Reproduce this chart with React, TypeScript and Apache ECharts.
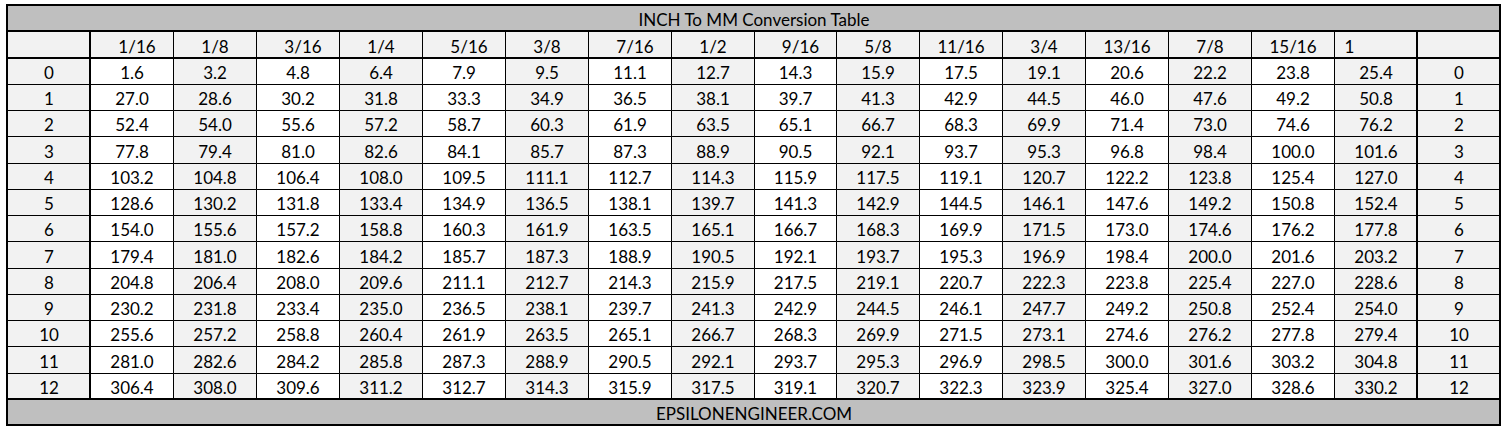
import React, { useEffect, useRef } from 'react';
import * as echarts from 'echarts';

const TITLE = 'INCH To MM Conversion Table';
const FOOTER = 'EPSILONENGINEER.COM';
const fractionLabels = ['1/16', '1/8', '3/16', '1/4', '5/16', '3/8', '7/16', '1/2', '9/16', '5/8', '11/16', '3/4', '13/16', '7/8', '15/16', '1'];
const inchRows = ['0', '1', '2', '3', '4', '5', '6', '7', '8', '9', '10', '11', '12'];
const mmValues: number[][] = [
  [1.6, 3.2, 4.8, 6.4, 7.9, 9.5, 11.1, 12.7, 14.3, 15.9, 17.5, 19.1, 20.6, 22.2, 23.8, 25.4],
  [27.0, 28.6, 30.2, 31.8, 33.3, 34.9, 36.5, 38.1, 39.7, 41.3, 42.9, 44.5, 46.0, 47.6, 49.2, 50.8],
  [52.4, 54.0, 55.6, 57.2, 58.7, 60.3, 61.9, 63.5, 65.1, 66.7, 68.3, 69.9, 71.4, 73.0, 74.6, 76.2],
  [77.8, 79.4, 81.0, 82.6, 84.1, 85.7, 87.3, 88.9, 90.5, 92.1, 93.7, 95.3, 96.8, 98.4, 100.0, 101.6],
  [103.2, 104.8, 106.4, 108.0, 109.5, 111.1, 112.7, 114.3, 115.9, 117.5, 119.1, 120.7, 122.2, 123.8, 125.4, 127.0],
  [128.6, 130.2, 131.8, 133.4, 134.9, 136.5, 138.1, 139.7, 141.3, 142.9, 144.5, 146.1, 147.6, 149.2, 150.8, 152.4],
  [154.0, 155.6, 157.2, 158.8, 160.3, 161.9, 163.5, 165.1, 166.7, 168.3, 169.9, 171.5, 173.0, 174.6, 176.2, 177.8],
  [179.4, 181.0, 182.6, 184.2, 185.7, 187.3, 188.9, 190.5, 192.1, 193.7, 195.3, 196.9, 198.4, 200.0, 201.6, 203.2],
  [204.8, 206.4, 208.0, 209.6, 211.1, 212.7, 214.3, 215.9, 217.5, 219.1, 220.7, 222.3, 223.8, 225.4, 227.0, 228.6],
  [230.2, 231.8, 233.4, 235.0, 236.5, 238.1, 239.7, 241.3, 242.9, 244.5, 246.1, 247.7, 249.2, 250.8, 252.4, 254.0],
  [255.6, 257.2, 258.8, 260.4, 261.9, 263.5, 265.1, 266.7, 268.3, 269.9, 271.5, 273.1, 274.6, 276.2, 277.8, 279.4],
  [281.0, 282.6, 284.2, 285.8, 287.3, 288.9, 290.5, 292.1, 293.7, 295.3, 296.9, 298.5, 300.0, 301.6, 303.2, 304.8],
  [306.4, 308.0, 309.6, 311.2, 312.7, 314.3, 315.9, 317.5, 319.1, 320.7, 322.3, 323.9, 325.4, 327.0, 328.6, 330.2],
];

const NCOLS = fractionLabels.length + 2;
const NROWS = inchRows.length + 3;

const BAND = '#BFBFBF';
const LIGHT = '#F2F2F2';
const WHITE = '#FFFFFF';
const FONT = '17px Lato, "Open Sans", sans-serif';

type Cell = { x: number; y: number; span: number; text: string; fill: string; align: 'center' | 'left'; dx: number };

function buildCells(): Cell[] {
  const cells: Cell[] = [];
  cells.push({ x: 0, y: 0, span: NCOLS, text: TITLE, fill: BAND, align: 'center', dx: 0 });
  cells.push({ x: 0, y: 1, span: 1, text: '', fill: LIGHT, align: 'center', dx: 0 });
  fractionLabels.forEach((f, i) => {
    const isWhole = !f.includes('/');
    const padded = /^\d\/16$/.test(f);
    cells.push({ x: i + 1, y: 1, span: 1, text: f, fill: LIGHT, align: isWhole ? 'left' : 'center', dx: isWhole ? 10 : padded ? 5 : 0 });
  });
  cells.push({ x: NCOLS - 1, y: 1, span: 1, text: '', fill: LIGHT, align: 'center', dx: 0 });
  inchRows.forEach((r, ri) => {
    const y = ri + 2;
    cells.push({ x: 0, y, span: 1, text: r, fill: LIGHT, align: 'center', dx: 0 });
    mmValues[ri].forEach((v, ci) => {
      cells.push({ x: ci + 1, y, span: 1, text: v.toFixed(1), fill: ci % 2 === 0 ? WHITE : LIGHT, align: 'center', dx: 0 });
    });
    cells.push({ x: NCOLS - 1, y, span: 1, text: r, fill: LIGHT, align: 'center', dx: 0 });
  });
  cells.push({ x: 0, y: NROWS - 1, span: NCOLS, text: FOOTER, fill: BAND, align: 'center', dx: 0 });
  return cells;
}

const thickLines: number[][] = [
  [0, 1, NCOLS, 1],
  [0, 2, NCOLS, 2],
  [0, NROWS - 1, NCOLS, NROWS - 1],
  [1, 1, 1, NROWS - 1],
  [NCOLS - 1, 1, NCOLS - 1, NROWS - 1],
];

export default function App() {
  const ref = useRef<HTMLDivElement>(null);
  useEffect(() => {
    if (!ref.current) return;
    const chart = echarts.init(ref.current, undefined, { renderer: 'svg' });
    const cells = buildCells();
    const half = (v: number) => Math.round(v) + 0.5;
    chart.setOption({
      animation: false,
      grid: { left: 7, top: 5, width: 1493, height: 420 },
      xAxis: { type: 'value', min: 0, max: NCOLS, show: false },
      yAxis: { type: 'value', min: 0, max: NROWS, inverse: true, show: false },
      series: [
        {
          type: 'custom',
          coordinateSystem: 'cartesian2d',
          data: cells.map((c) => [c.x, c.y, c.span]),
          renderItem: (params: any, api: any) => {
            const c = cells[params.dataIndex];
            const p0 = api.coord([api.value(0), api.value(1)]);
            const p1 = api.coord([api.value(0) + api.value(2), api.value(1) + 1]);
            const x0 = half(p0[0]);
            const y0 = half(p0[1]);
            const x1 = half(p1[0]);
            const y1 = half(p1[1]);
            const tx = c.align === 'left' ? x0 + c.dx : (x0 + x1) / 2 + c.dx;
            return {
              type: 'group',
              children: [
                {
                  type: 'rect',
                  shape: { x: x0, y: y0, width: x1 - x0, height: y1 - y0 },
                  style: { fill: c.fill, stroke: '#000', lineWidth: 1 },
                },
                {
                  type: 'text',
                  style: {
                    text: c.text,
                    x: tx,
                    y: (y0 + y1) / 2 + 1,
                    font: FONT,
                    fill: '#000',
                    align: c.align,
                    textAlign: c.align,
                    verticalAlign: 'middle',
                    textVerticalAlign: 'middle',
                  },
                },
              ],
            };
          },
          z: 1,
        },
        {
          type: 'custom',
          coordinateSystem: 'cartesian2d',
          data: thickLines,
          renderItem: (params: any, api: any) => {
            const a = api.coord([api.value(0), api.value(1)]);
            const b = api.coord([api.value(2), api.value(3)]);
            const children: any[] = [
              {
                type: 'line',
                shape: { x1: Math.round(a[0]), y1: Math.round(a[1]), x2: Math.round(b[0]), y2: Math.round(b[1]) },
                style: { stroke: '#000', lineWidth: 2 },
              },
            ];
            if (params.dataIndex === 0) {
              const tl = api.coord([0, 0]);
              const br = api.coord([NCOLS, NROWS]);
              children.push({
                type: 'rect',
                shape: { x: Math.round(tl[0]), y: Math.round(tl[1]), width: Math.round(br[0]) - Math.round(tl[0]), height: Math.round(br[1]) - Math.round(tl[1]) },
                style: { fill: 'none', stroke: '#000', lineWidth: 2 },
              });
            }
            return { type: 'group', children };
          },
          z: 2,
        },
      ],
    });
    return () => chart.dispose();
  }, []);
  return <div ref={ref} style={{ position: 'absolute', left: 0, top: 0, width: 1509, height: 434, background: '#fff' }} />;
}
